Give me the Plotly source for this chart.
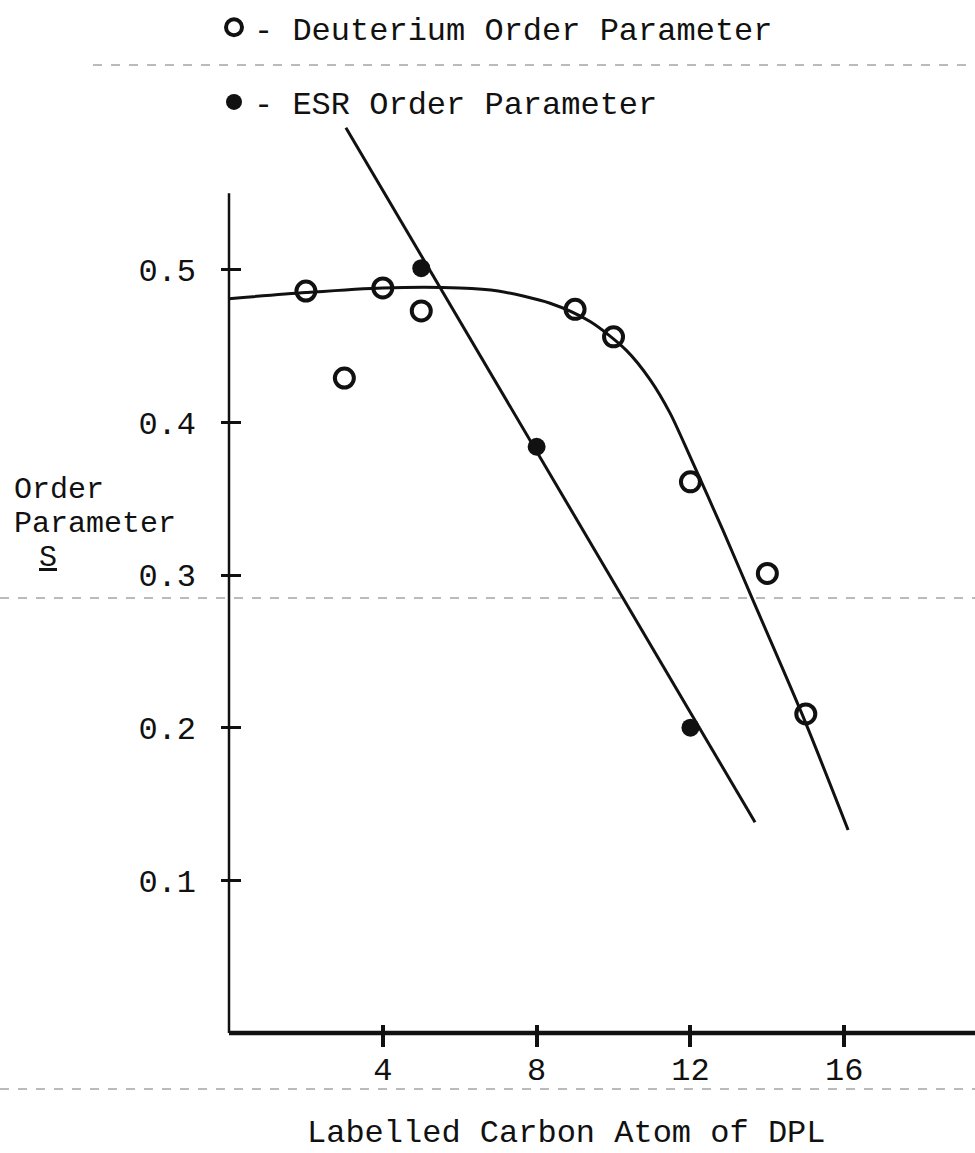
import plotly.graph_objects as go

# ---------------- data ----------------
deut_x = [2, 3, 4, 5, 9, 10, 12, 14, 15]
deut_y = [0.486, 0.429, 0.488, 0.473, 0.474, 0.456, 0.361, 0.301, 0.209]

esr_x = [5, 8, 12]
esr_y = [0.501, 0.384, 0.200]

# hand-drawn fitted curve through deuterium data
deut_fit_x = [0, 2, 4, 6, 7, 8.35, 9.39, 10.34, 10.95, 11.47, 12, 12.85, 13.6, 14.9, 16.1]
deut_fit_y = [0.481, 0.485, 0.488, 0.488, 0.486, 0.478, 0.466, 0.447, 0.428,
              0.406, 0.377, 0.329, 0.285, 0.209, 0.133]

# straight fitted line through ESR data
esr_fit_x = [3.04, 13.68]
esr_fit_y = [0.593, 0.138]

x_ticks = [4, 8, 12, 16]
x_ticklabels = ["4", "8", "12", "16"]
y_ticks = [0.1, 0.2, 0.3, 0.4, 0.5]
y_ticklabels = ["0.1", "0.2", "0.3", "0.4", "0.5"]
y_axis_top = 0.55

# ---------------- layout geometry ----------------
W, H = 975, 1153
# drawing area edges sit a little past the axis lines so the tick marks
# (drawn "inside") cross the axis lines as in the hand-drawn original
ML, MR, MT, MB = 221, 0, 117, 106
PW = W - ML - MR
PH = H - MT - MB
X_PER_PX = 19.4 / (W - 229)          # data units per pixel along x
Y_PER_PX = 0.6 / (1033 - MT)         # data units per pixel along y
x_range = [-(229 - ML) * X_PER_PX, 19.4]
y_range = [-(H - MB - 1033) * Y_PER_PX, 0.6]


def px(xp):
    return (xp - ML) / PW


def py(yp):
    return (H - MB - yp) / PH


FONT = "Courier New, Liberation Mono, monospace"
INK = "#111111"

fig = go.Figure()

fig.add_trace(go.Scatter(
    x=deut_fit_x, y=deut_fit_y, mode="lines",
    line=dict(color=INK, width=3, shape="spline", smoothing=0.8),
    showlegend=False, hoverinfo="skip"))
fig.add_trace(go.Scatter(
    x=esr_fit_x, y=esr_fit_y, mode="lines",
    line=dict(color=INK, width=3),
    showlegend=False, hoverinfo="skip"))

fig.add_trace(go.Scatter(
    x=deut_x, y=deut_y, mode="markers", name="- Deuterium Order Parameter",
    legendgroup="a",
    marker=dict(symbol="circle-open", size=19, color=INK, line=dict(width=4, color=INK))))
fig.add_trace(go.Scatter(
    x=esr_x, y=esr_y, mode="markers", name="- ESR Order Parameter",
    legendgroup="b",
    marker=dict(symbol="circle", size=18, color=INK), cliponaxis=False))

ylab_font = dict(family=FONT, size=30, color=INK)
annotations = [
    dict(text="Order", x=px(12), y=py(490), xanchor="left", yanchor="middle", font=ylab_font),
    dict(text="Parameter", x=px(12), y=py(524), xanchor="left", yanchor="middle", font=ylab_font),
    dict(text="<u>S</u>", x=px(37), y=py(558), xanchor="left", yanchor="middle", font=ylab_font),
    dict(text="Labelled Carbon Atom of DPL", x=px(566), y=py(1133),
         xanchor="center", yanchor="middle",
         font=dict(family=FONT, size=32, color=INK)),
]
for a in annotations:
    a.update(xref="paper", yref="paper", showarrow=False)

shapes = [
    # vertical axis line at x = 0, stopping below the top of the drawing area
    dict(type="line", xref="x", yref="y", x0=0, x1=0, y0=0, y1=y_axis_top,
         line=dict(color=INK, width=2.5)),
    # horizontal axis line at y = 0 running to the right edge
    dict(type="line", xref="x", yref="y", x0=0, x1=x_range[1], y0=0, y1=0,
         line=dict(color=INK, width=4.5)),
]
# faint scan/fold lines of the original sheet
for (x0, x1, yy) in [(93, 975, 65), (0, 975, 598), (0, 975, 1089)]:
    shapes.append(dict(type="line", xref="paper", yref="paper",
                       x0=px(x0), x1=px(x1), y0=py(yy), y1=py(yy),
                       line=dict(color="#777777", width=1, dash="dash")))

fig.update_layout(
    width=W, height=H,
    margin=dict(l=ML, r=MR, t=MT, b=MB, autoexpand=False),
    paper_bgcolor="white", plot_bgcolor="white",
    font=dict(family=FONT, size=32, color=INK),
    showlegend=True,
    legend=dict(xref="container", yref="container", x=214 / W, y=1 + 1 / H,
                xanchor="left", yanchor="top", bgcolor="rgba(0,0,0,0)",
                traceorder="grouped", tracegroupgap=30,
                font=dict(family=FONT, size=32, color=INK)),
    annotations=annotations,
    shapes=shapes,
    xaxis=dict(range=x_range, showgrid=False, zeroline=False, showline=False,
               ticks="inside", ticklen=22, tickwidth=4, tickcolor=INK,
               tickmode="array", tickvals=x_ticks, ticktext=x_ticklabels,
               ticklabelstandoff=0,
               tickfont=dict(family=FONT, size=32, color=INK)),
    yaxis=dict(range=y_range, showgrid=False, zeroline=False, showline=False,
               ticks="inside", ticklen=20, tickwidth=3, tickcolor=INK,
               tickmode="array", tickvals=y_ticks, ticktext=y_ticklabels,
               ticklabelstandoff=24,
               tickfont=dict(family=FONT, size=32, color=INK)),
)

fig.write_html("out.html")
